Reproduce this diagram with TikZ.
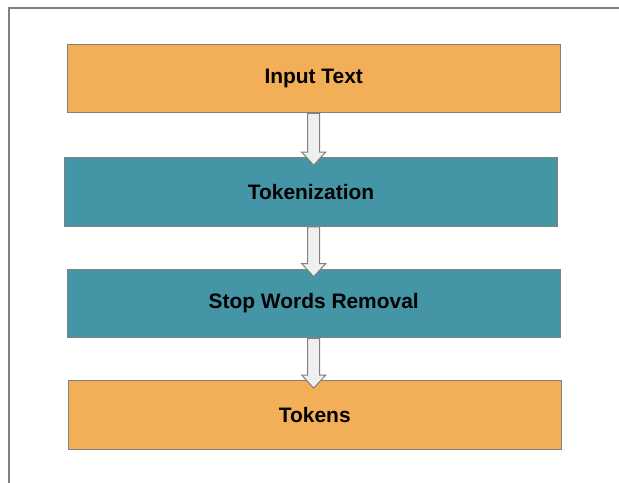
\documentclass[tikz,border=0pt]{standalone}
\usepackage{fontspec}
\setmainfont{Liberation Sans}
\usetikzlibrary{calc}

\definecolor{stageorange}{HTML}{F2AF58}
\definecolor{stageteal}{HTML}{4495A6}
\definecolor{edgegray}{HTML}{808080}
\definecolor{arrowfill}{HTML}{EFEFEF}

\newcommand\stagearrow[2]{%
  \draw[flow] ($(#1.south -| axis)+(-6,0)$) -- ($(#2.north -| axis)+(-6,-5)$)
    -- ++(-6,0) -- ($(#2.north -| axis)+(0,8)$) -- ($(#2.north -| axis)+(12,-5)$)
    -- ++(-6,0) -- ($(#1.south -| axis)+(6,0)$) -- cycle;}

\begin{document}
\begin{tikzpicture}[x=1bp, y=-1bp,
    stage/.style={draw=edgegray, line width=1.3bp, minimum width=493bp, minimum height=68.5bp,
                  inner sep=0pt, font=\fontsize{21}{25}\selectfont\bfseries},
    raw/.style={stage, fill=stageorange},
    proc/.style={stage, fill=stageteal},
    flow/.style={draw=edgegray, fill=arrowfill, line width=1bp, line join=miter},
    frame/.style={draw=edgegray, line width=1.2bp},
    ]
    \useasboundingbox (0,0) rectangle (619,483);
    \draw[frame] (9,483) -- (9,8) -- (619,8);
    \coordinate (axis) at (313.7,0);
    \node[raw]  (input)  at (313.7,78.5)  {Input Text};
    \node[proc] (tokenize) at (311,192)  {Tokenization};
    \node[proc] (stopwords) at (313.7,303.5) {Stop Words Removal};
    \node[raw]  (tokens) at (314.8,415) {Tokens};
    \stagearrow{input}{tokenize}
    \stagearrow{tokenize}{stopwords}
    \stagearrow{stopwords}{tokens}
\end{tikzpicture}
\end{document}
